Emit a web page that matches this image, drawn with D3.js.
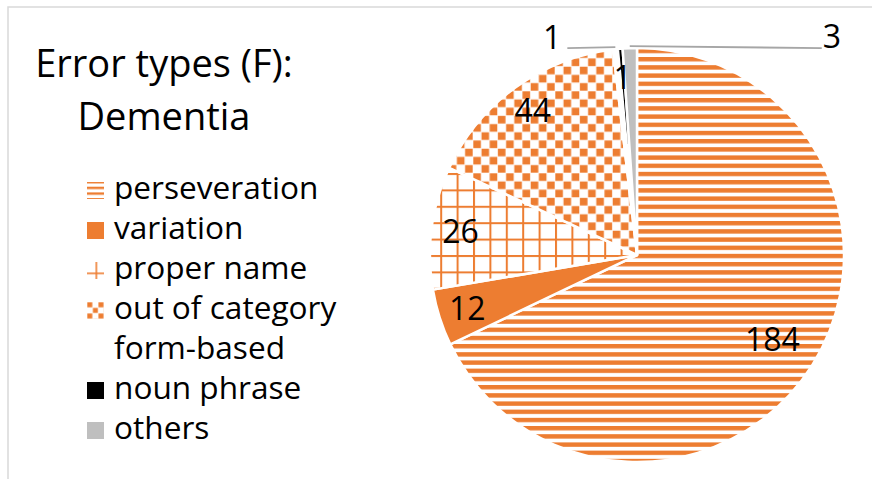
<!DOCTYPE html>
<html><head><meta charset="utf-8">
<script src="https://cdn.jsdelivr.net/npm/d3@7"></script>
<style>
body{margin:0;background:#fff;}
svg{display:block;font-family:"Open Sans",sans-serif;}
</style>
</head><body>
<svg id="chart" width="872" height="479"></svg>
<script>
// ---- data ----
const titleLines = ["Error types (F):", "Dementia"];
const categories = ["perseveration", "variation", "proper name", "out of category", "form-based", "noun phrase", "others"];
const values = [184, 12, 26, 44, 1, 1, 3];

// ---- styles ----
const ORANGE = "#ED7D31";
const sliceFills = ["url(#p-stripes)", ORANGE, "url(#p-grid)", "url(#p-check)", "#FFFFFF", "#000000", "#BFBFBF"];
const legendFills = ["url(#l-stripes)", ORANGE, "url(#l-grid)", "url(#l-check)", "#FFFFFF", "#000000", "#BFBFBF"];
const leaderSide = {"form-based": -1, "others": 1};

const svg = d3.select("#chart");
const W = 872, H = 479;
svg.append("rect").attr("width", W).attr("height", H).attr("fill", "#fff");
// chart frame
svg.append("rect").attr("x", 8).attr("y", 7).attr("width", W + 20).attr("height", H + 20)
  .attr("fill", "none").attr("stroke", "#D9D9D9").attr("stroke-width", 1.5);

// ---- patterns ----
const defs = svg.append("defs");
function stripes(id, p, t, ox, oy) {
  const pt = defs.append("pattern").attr("id", id).attr("patternUnits", "userSpaceOnUse")
    .attr("width", p).attr("height", p).attr("patternTransform", `translate(${ox},${oy})`);
  pt.append("rect").attr("width", p).attr("height", p).attr("fill", "#fff");
  pt.append("rect").attr("width", p).attr("height", t).attr("fill", ORANGE);
}
function grid(id, p, t, ox, oy) {
  const pt = defs.append("pattern").attr("id", id).attr("patternUnits", "userSpaceOnUse")
    .attr("width", p).attr("height", p).attr("patternTransform", `translate(${ox},${oy})`);
  pt.append("rect").attr("width", p).attr("height", p).attr("fill", "#fff");
  pt.append("rect").attr("width", t).attr("height", p).attr("fill", ORANGE);
  pt.append("rect").attr("width", p).attr("height", t).attr("fill", ORANGE);
}
function check(id, s, ox, oy) {
  const pt = defs.append("pattern").attr("id", id).attr("patternUnits", "userSpaceOnUse")
    .attr("width", 2 * s).attr("height", 2 * s).attr("patternTransform", `translate(${ox},${oy})`);
  pt.append("rect").attr("width", 2 * s).attr("height", 2 * s).attr("fill", "#fff");
  pt.append("rect").attr("x", 0.3).attr("y", 0.3).attr("width", s - 0.6).attr("height", s - 0.6).attr("fill", ORANGE);
  pt.append("rect").attr("x", s + 0.3).attr("y", s + 0.3).attr("width", s - 0.6).attr("height", s - 0.6).attr("fill", ORANGE);
}
stripes("p-stripes", 8.2, 4.4, 0, 48);
grid("p-grid", 16.4, 2, 0, 0);
check("p-check", 8.2, 0, 0);

// ---- title ----
const title = svg.append("text").attr("x", 164).attr("text-anchor", "middle")
  .attr("font-size", 38).attr("fill", "#000");
title.selectAll("tspan").data(titleLines).join("tspan")
  .attr("x", 164).attr("y", (d, i) => 77 + i * 53).text(d => d);

// ---- legend ----
const legX = 87, legY0 = 198, legStep = 40, key = 17;
const legend = svg.append("g");
categories.forEach((c, i) => {
  const y = legY0 + i * legStep;
  if (i === 0) stripes("l-stripes", 5.7, 2.4, legX, y - key);
  if (i === 2) grid("l-grid", 17, 1.6, legX + 8.5, y - 5.5);
  if (i === 3) check("l-check", 5.6, legX, y - key + 1);
});
legend.selectAll("rect").data(categories).join("rect")
  .attr("x", legX).attr("y", (d, i) => legY0 + i * legStep - key + 1)
  .attr("width", key).attr("height", key)
  .attr("fill", (d, i) => legendFills[i]);
legend.selectAll("text").data(categories).join("text")
  .attr("x", 114).attr("y", (d, i) => legY0 + 1 + i * legStep)
  .attr("font-size", 31.6).attr("fill", "#000").text(d => d);

// ---- pie ----
const cx = 637, cy = 255, R = 207;
const pie = d3.pie().sort(null).value(d => d)(values);
const arc = d3.arc().innerRadius(0).outerRadius(R);
const g = svg.append("g").attr("transform", `translate(${cx},${cy})`);
g.selectAll("path").data(pie).join("path")
  .attr("d", arc)
  .attr("fill", (d, i) => sliceFills[i])
  .attr("stroke", "#fff").attr("stroke-width", 2.5).attr("stroke-linejoin", "round");

// ---- data labels ----
const labelArc = d3.arc().innerRadius(178).outerRadius(178);
const bigArc = d3.arc().innerRadius(160).outerRadius(160);
const edgeArc = d3.arc().innerRadius(R + 1).outerRadius(R + 1);
pie.forEach((d, i) => {
  const cat = categories[i];
  const side = leaderSide[cat];
  if (side) {
    const [ex, ey] = edgeArc.centroid(d);
    const lx = side < 0 ? ex - 48 : ex + 192;
    g.append("line").attr("x1", ex).attr("y1", ey - 1).attr("x2", lx).attr("y2", ey + (side > 0 ? 1 : 0))
      .attr("stroke", "#A6A6A6").attr("stroke-width", 1.8);
    g.append("text").attr("x", side < 0 ? lx - 6 : lx + 1).attr("y", ey - 10)
      .attr("text-anchor", side < 0 ? "end" : "start").attr("dy", "0.35em")
      .attr("font-size", 32).attr("fill", "#000").text(values[i]);
  } else {
    const [lx, ly] = (i === 0 ? bigArc : labelArc).centroid(d);
    g.append("text").attr("x", lx).attr("y", ly).attr("text-anchor", "middle").attr("dy", "0.35em")
      .attr("font-size", 32).attr("fill", "#000").text(values[i]);
  }
});
</script>
</body></html>
